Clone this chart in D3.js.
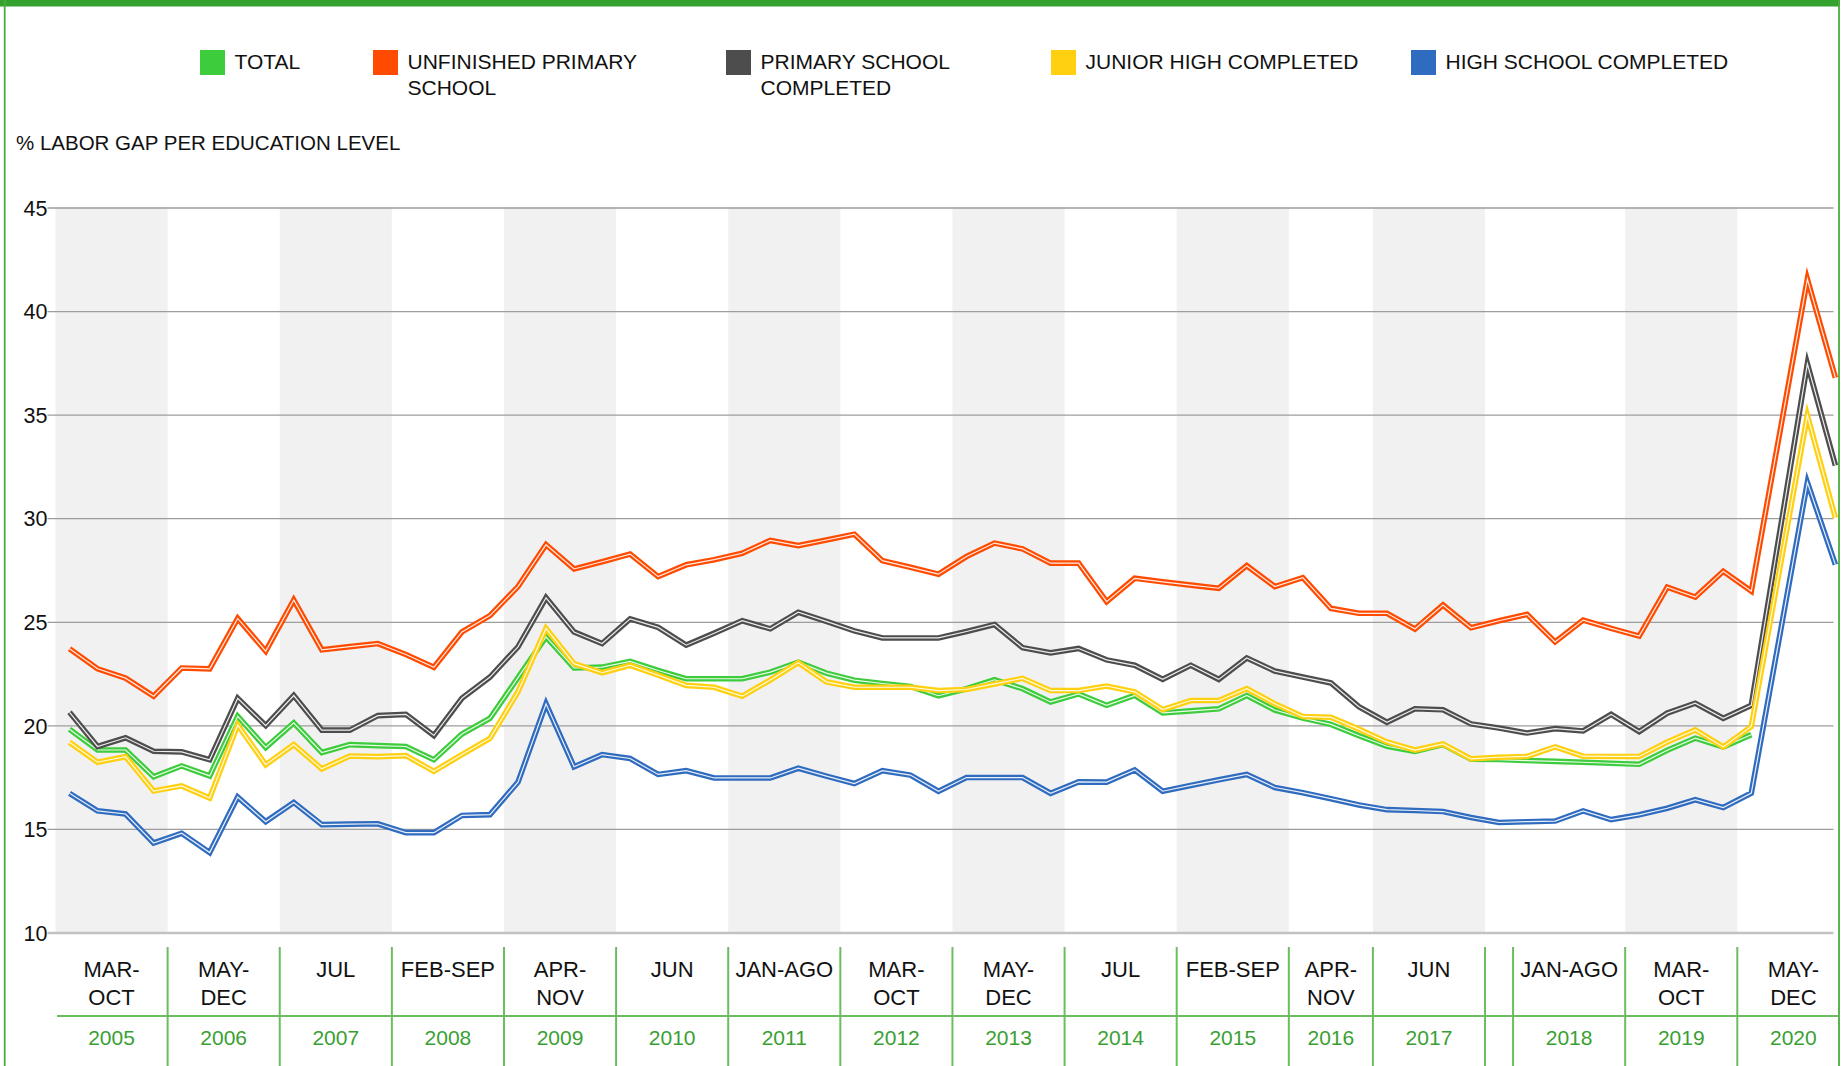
<!DOCTYPE html>
<html>
<head>
<meta charset="utf-8">
<script src="https://cdn.jsdelivr.net/npm/d3@7"></script>
<style>
  html, body { margin: 0; padding: 0; background: #fff; }
  svg { display: block; font-family: "Liberation Sans", Arial, sans-serif; }
</style>
</head>
<body>
<svg id="chart" width="1845" height="1066"></svg>
<script>
// Quarterly series, 2005 Q1 .. 2020 Q4 (null = no survey that quarter)
const total = [
  19.81, 18.81, 18.81, 17.52, 18.04, 17.56, 20.44, 18.93, 20.12, 18.69, 19.07, 19.02, 18.98, 18.34, 19.58, 20.34,
  22.30, 24.27, 22.77, 22.81, 23.09, 22.65, 22.25, 22.25, 22.25, 22.57, 23.05, 22.52, 22.18, 22.02, 21.88, 21.43,
  21.77, 22.20, 21.77, 21.13, 21.52, 20.97, 21.45, 20.60, 20.70, 20.80, 21.44, 20.74, 20.35, 20.05, 19.50, 18.99,
  18.74, 19.07, 18.36, 18.35, 18.30, 18.26, 18.22, 18.17, 18.12, 18.80, 19.38, 18.96, 19.55, null, null, null
];
const unfinishedPrimary = [
  23.70, 22.73, 22.28, 21.41, 22.77, 22.73, 25.16, 23.58, 26.05, 23.65, 23.80, 23.95, 23.42, 22.80, 24.51, 25.30,
  26.70, 28.72, 27.55, 27.90, 28.27, 27.18, 27.75, 28.00, 28.31, 28.93, 28.68, 28.95, 29.23, 27.95, 27.63, 27.30,
  28.15, 28.80, 28.52, 27.83, 27.83, 25.97, 27.10, 26.93, 26.77, 26.62, 27.71, 26.70, 27.13, 25.65, 25.41, 25.41,
  24.65, 25.81, 24.71, 25.05, 25.36, 24.03, 25.08, 24.68, 24.31, 26.67, 26.19, 27.44, 26.48, null, 41.54, 36.78
];
const primaryCompleted = [
  20.63, 18.98, 19.40, 18.75, 18.72, 18.34, 21.31, 19.99, 21.44, 19.77, 19.77, 20.47, 20.53, 19.51, 21.31, 22.33,
  23.79, 26.16, 24.51, 23.95, 25.14, 24.73, 23.87, 24.45, 25.05, 24.66, 25.46, 25.02, 24.56, 24.22, 24.22, 24.22,
  24.53, 24.87, 23.75, 23.50, 23.71, 23.16, 22.90, 22.22, 22.90, 22.22, 23.25, 22.62, 22.33, 22.05, 20.90, 20.15,
  20.80, 20.75, 20.07, 19.87, 19.63, 19.84, 19.73, 20.53, 19.70, 20.59, 21.07, 20.34, 20.97, null, 37.45, 32.54
];
const juniorHighCompleted = [
  19.18, 18.22, 18.49, 16.83, 17.08, 16.49, 20.02, 18.10, 19.07, 17.90, 18.52, 18.49, 18.54, 17.78, 18.59, 19.37,
  21.62, 24.68, 22.98, 22.54, 22.90, 22.42, 21.93, 21.84, 21.41, 22.19, 23.03, 22.10, 21.84, 21.84, 21.84, 21.68,
  21.73, 22.00, 22.27, 21.68, 21.68, 21.90, 21.62, 20.76, 21.20, 21.20, 21.77, 21.04, 20.43, 20.39, 19.82, 19.20,
  18.81, 19.10, 18.38, 18.46, 18.50, 18.96, 18.51, 18.50, 18.50, 19.20, 19.78, 18.96, 19.95, null, 34.96, 30.02
];
const highSchoolCompleted = [
  16.72, 15.87, 15.72, 14.32, 14.79, 13.86, 16.54, 15.35, 16.28, 15.21, 15.23, 15.25, 14.82, 14.82, 15.65, 15.69,
  17.26, 21.04, 18.00, 18.59, 18.40, 17.63, 17.81, 17.46, 17.46, 17.46, 17.93, 17.55, 17.19, 17.81, 17.60, 16.82,
  17.48, 17.48, 17.48, 16.72, 17.27, 17.26, 17.85, 16.82, 17.10, 17.37, 17.63, 17.00, 16.75, 16.46, 16.16, 15.93,
  15.89, 15.84, 15.55, 15.31, 15.35, 15.38, 15.87, 15.45, 15.68, 16.00, 16.41, 16.03, 16.73, null, 31.73, 27.76
];

// Survey columns under the chart: year, months covered, quarters spanned
const columnYears    = ["2005","2006","2007","2008","2009","2010","2011","2012","2013","2014","2015","2016","2017","","2018","2019","2020"];
const columnMonths   = [["MAR-","OCT"],["MAY-","DEC"],["JUL"],["FEB-SEP"],["APR-","NOV"],["JUN"],["JAN-AGO"],["MAR-","OCT"],["MAY-","DEC"],["JUL"],["FEB-SEP"],["APR-","NOV"],["JUN"],[],["JAN-AGO"],["MAR-","OCT"],["MAY-","DEC"]];
const columnQuarters = [4,4,4,4,4,4,4,4,4,4,4,3,4,1,4,4,4];

const seriesNames  = ["TOTAL", "UNFINISHED PRIMARY SCHOOL", "PRIMARY SCHOOL COMPLETED", "JUNIOR HIGH COMPLETED", "HIGH SCHOOL COMPLETED"];
const legendLines  = [["TOTAL"], ["UNFINISHED PRIMARY", "SCHOOL"], ["PRIMARY SCHOOL", "COMPLETED"], ["JUNIOR HIGH COMPLETED"], ["HIGH SCHOOL COMPLETED"]];
const seriesValues = [total, unfinishedPrimary, primaryCompleted, juniorHighCompleted, highSchoolCompleted];
const yTicks = [10, 15, 20, 25, 30, 35, 40, 45];

// ---- layout ----
const W = 1845, H = 1066;
const colors = ["#3ccc3c", "#ff4b00", "#4d4d4d", "#ffd010", "#2f6bbf"];
const frameGreen = "#35a12f", tableGreen = "#6cbd60", yearGreen = "#3a9f33";
const plotLeft = 55.5, plotRight = 1833.5, gridLeft = 47.5;
const quarterWidth = 28.03;
const legendX = [200, 373, 726, 1051, 1411];

const svg = d3.select("#chart");

const x = d3.scaleLinear().domain([0, 64]).range([plotLeft, plotLeft + 64 * quarterWidth]);
const y = d3.scaleLinear().domain([10, 45]).range([932.5, 207.5]);

// frame
svg.append("rect").attr("x", 0).attr("y", 0).attr("width", 1840).attr("height", 6.5).attr("fill", frameGreen);
svg.append("line").attr("x1", 4.7).attr("x2", 4.7).attr("y1", 0).attr("y2", H).attr("stroke", "#4aab3e").attr("stroke-width", 1.8);
svg.append("line").attr("x1", 1839).attr("x2", 1839).attr("y1", 0).attr("y2", H).attr("stroke", "#4aab3e").attr("stroke-width", 1.8);

// column spans in quarter units
let acc = 0;
const columns = columnQuarters.map((q, i) => {
  const c = { start: acc, end: acc + q, year: columnYears[i], months: columnMonths[i] };
  acc += q;
  return c;
});
let yearIdx = 0;
columns.forEach(c => { c.shade = c.year !== "" && (yearIdx++ % 2 === 0); });

// alternating year bands
svg.append("g").selectAll("rect")
  .data(columns.filter(c => c.shade))
  .join("rect")
  .attr("x", d => x(d.start))
  .attr("width", d => Math.min(x(d.end), plotRight) - x(d.start))
  .attr("y", y(45))
  .attr("height", y(10) - y(45))
  .attr("fill", "#f1f1f1");

// y axis with gridlines
const yAxis = svg.append("g")
  .attr("transform", `translate(${gridLeft},0)`)
  .call(d3.axisLeft(y).tickValues(yTicks).tickSize(-(plotRight - gridLeft)).tickPadding(0).tickFormat(d3.format("d")));
yAxis.select(".domain").remove();
yAxis.selectAll(".tick line")
  .attr("stroke", d => d === 10 ? "#c2c2c2" : "#9d9d9d")
  .attr("stroke-width", d => d === 10 ? 2.6 : 1.3);
yAxis.selectAll(".tick text")
  .attr("x", 0)
  .attr("dy", "0.36em")
  .attr("fill", "#111")
  .style("font-family", "'Liberation Sans', Arial, sans-serif")
  .style("font-size", "21.5px");

// series lines: coloured stroke with a thin white core; a missing quarter is bridged
const line = d3.line()
  .x(d => x(d.i + 0.5))
  .y(d => y(d.v));

const lines = svg.append("g").attr("fill", "none").attr("stroke-linejoin", "miter").attr("stroke-miterlimit", 6);
seriesValues.forEach((vals, s) => {
  const pts = vals.map((v, i) => ({ i, v })).filter(d => d.v != null);
  lines.append("path").datum(pts).attr("d", line).attr("stroke", colors[s]).attr("stroke-width", 5.6);
  lines.append("path").datum(pts).attr("d", line).attr("stroke", "#fff").attr("stroke-width", 1.2).attr("stroke-opacity", 0.9);
});

// legend
const legend = svg.append("g");
seriesNames.forEach((name, i) => {
  const g = legend.append("g").attr("transform", `translate(${legendX[i]},0)`);
  g.append("rect").attr("x", 0).attr("y", 50).attr("width", 25).attr("height", 25).attr("fill", colors[i]);
  const t = g.append("text").attr("x", 34.5).attr("y", 69).attr("fill", "#111").style("font-size", "21px");
  legendLines[i].forEach((ln, k) => {
    t.append("tspan").attr("x", 34.5).attr("dy", k === 0 ? 0 : 25.5).text(ln);
  });
});

// axis title
svg.append("text").attr("x", 16).attr("y", 150).attr("fill", "#111")
  .style("font-size", "20.5px").text("% LABOR GAP PER EDUCATION LEVEL");

// bottom table
const table = svg.append("g");
table.append("line").attr("x1", 57).attr("x2", 1839).attr("y1", 1016).attr("y2", 1016)
  .attr("stroke", tableGreen).attr("stroke-width", 2);
table.selectAll("line.div")
  .data(columns.slice(1))
  .join("line")
  .attr("class", "div")
  .attr("x1", d => x(d.start)).attr("x2", d => x(d.start))
  .attr("y1", 947).attr("y2", H)
  .attr("stroke", tableGreen).attr("stroke-width", 2);

columns.forEach(c => {
  const cx = (x(c.start) + x(c.end)) / 2;
  if (c.months.length) {
    const t = table.append("text").attr("x", cx).attr("y", 977).attr("text-anchor", "middle")
      .attr("fill", "#111").style("font-size", "22px");
    c.months.forEach((m, k) => t.append("tspan").attr("x", cx).attr("dy", k === 0 ? 0 : 28.3).text(m));
  }
  if (c.year) {
    table.append("text").attr("x", cx).attr("y", 1045).attr("text-anchor", "middle")
      .attr("fill", yearGreen).style("font-size", "21px").text(c.year);
  }
});
</script>
</body>
</html>
